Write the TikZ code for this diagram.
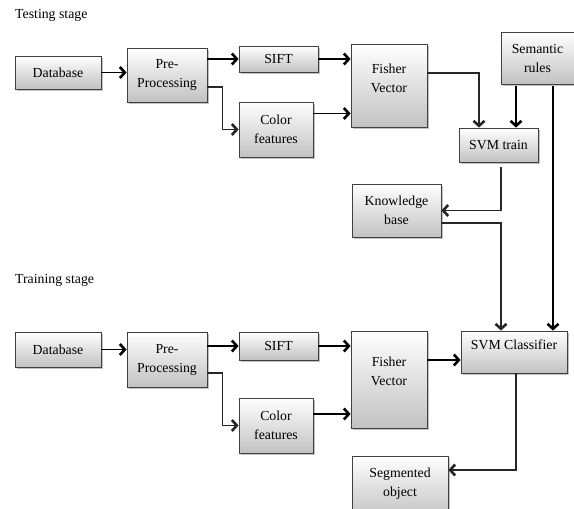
\documentclass[tikz,border=0pt]{standalone}
\usepackage{fontspec}
\setmainfont{Liberation Serif}
\usetikzlibrary{arrows.meta,shadows,calc}
\begin{document}
\begin{tikzpicture}[x=1pt,y=-1pt,
  box/.style={draw=black!75, line width=0.8pt, top color=white, bottom color=black!24,
    drop shadow={shadow xshift=1.8pt, shadow yshift=-1.8pt, fill=black!40, opacity=0.6},
    align=center, inner sep=0pt, font=\fontsize{13.8}{19}\selectfont},
  lbl/.style={anchor=west, inner sep=0pt, font=\fontsize{13.8}{16}\selectfont},
  tip/.style={-{Straight Barb[length=5pt,width=11pt,line width=2.6pt 0]}},
  thk/.style={tip, line width=1.8pt, black},
  thn/.style={tip, line width=1.2pt, black!85}]
\useasboundingbox (0,0) rectangle (574,509);
\clip (0,0) rectangle (574,509);

% Testing stage
\node[lbl] (ttest) at (15,15) {Testing stage};
\node[box, minimum width=86pt, minimum height=33pt] (db1) at (58,72.5) {Database};
\node[box, minimum width=80pt, minimum height=54pt] (pre1) at (167,75) {Pre-\\Processing};
\node[box, minimum width=79pt, minimum height=26pt] (sift1) at (278.5,59) {SIFT};
\node[box, minimum width=74pt, minimum height=55pt] (col1) at (276,129.5) {Color\\features};
\node[box, minimum width=76pt, minimum height=83pt] (fv1) at (389,85.5) {Fisher\\Vector\rule[-15pt]{0pt}{0pt}};
\node[box, minimum width=73pt, minimum height=52pt] (sem) at (537.5,58) {Semantic\\rules};
\node[box, minimum width=79pt, minimum height=34pt] (svmt) at (498.5,145) {SVM train};
\node[box, minimum width=89pt, minimum height=53pt] (kb) at (396.5,210.5) {Knowledge\\base};

% Training stage
\node[lbl] (ttrain) at (15,280) {Training stage};
\node[box, minimum width=86pt, minimum height=35pt] (db2) at (58,349.5) {Database};
\node[box, minimum width=80pt, minimum height=55pt] (pre2) at (167,359.5) {Pre-\\Processing};
\node[box, minimum width=79pt, minimum height=28pt] (sift2) at (278.5,346) {SIFT};
\node[box, minimum width=74pt, minimum height=55pt] (col2) at (276,425.5) {Color\\features};
\node[box, minimum width=76pt, minimum height=97pt] (fv2) at (389,379.5) {Fisher\\Vector\rule[-17pt]{0pt}{0pt}};
\node[box, minimum width=106pt, minimum height=42pt] (svmc) at (514,352) {SVM Classifier\rule[-14pt]{0pt}{0pt}};
\node[box, minimum width=96pt, minimum height=62pt] (seg) at (400,487) {Segmented\\object\rule[-9pt]{0pt}{0pt}};

% Testing connectors
\draw[thk] (db1.east) -- (db1.east -| pre1.west);
\draw[thk] (pre1.east |- sift1.west) -- (sift1.west);
\draw[thn] ([yshift=-12pt]pre1.east) -- ++(15,0) |- (col1.west);
\draw[thk] (sift1.east) -- (sift1.east -| fv1.west);
\draw[thk] ([yshift=16pt]col1.east) -- ([yshift=16pt]col1.east -| fv1.west);
\draw[thn] ([yshift=12.5pt]fv1.east) -| ([xshift=-19.5pt]svmt.north);
\draw[thk, shorten <=2pt] ([xshift=-21.5pt]sem.south) -- ([xshift=-21.5pt]sem.south |- svmt.north);
\draw[thk, shorten <=2pt] ([xshift=15.5pt]sem.south) -- ([xshift=15.5pt]sem.south |- svmc.north);
\draw[thn, shorten <=5pt] ([xshift=2.5pt]svmt.south) |- (kb.east);
\draw[thn] ([yshift=-12.5pt]kb.east) -| ([xshift=-13pt]svmc.north);

% Training connectors
\draw[thk] (db2.east) -- (db2.east -| pre2.west);
\draw[thk] (pre2.east |- sift2.west) -- (sift2.west);
\draw[thn] ([yshift=-13.5pt]pre2.east) -- ++(15,0) |- (col2.west);
\draw[thk] (sift2.east) -- (sift2.east -| fv2.west);
\draw[thk] ([yshift=11.5pt]col2.east) -- ([yshift=11.5pt]col2.east -| fv2.west);
\draw[thk] ([yshift=-8pt]svmc.west -| fv2.east) -- ([yshift=-8pt]svmc.west);
\draw[thn] ([xshift=2pt]svmc.south) |- ([yshift=17pt]seg.east);
\end{tikzpicture}
\end{document}
